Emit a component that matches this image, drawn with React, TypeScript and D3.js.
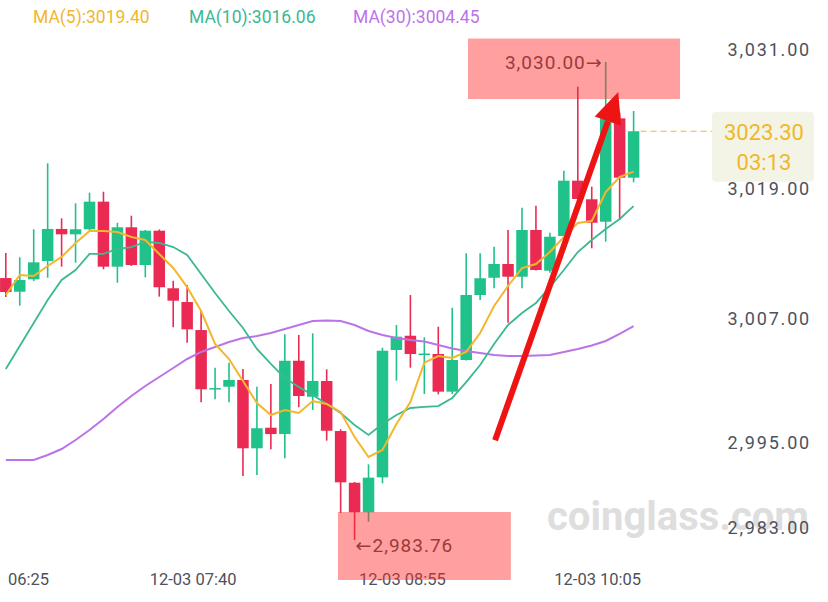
import React from "react";
import * as d3 from "d3";

// ---- data (5-minute candles, 12-03 06:35 .. 10:20) ----
const candleOpen = [3009.10, 3007.78, 3008.98, 3010.75, 3013.85, 3013.33, 3013.82, 3016.49, 3010.20, 3014.01, 3010.36, 3013.68, 3008.11, 3006.78, 3004.07, 2998.34, 2998.59, 2999.24, 2992.63, 2994.62, 2994.01, 3001.10, 2997.62, 2999.14, 2994.30, 2989.30, 2986.44, 2989.82, 3002.14, 3003.52, 3001.66, 3001.75, 2998.11, 3001.17, 3007.46, 3009.13, 3010.46, 3009.23, 3013.75, 3009.81, 3013.17, 3018.52, 3016.72, 3014.55, 3024.55, 3018.81];
const candleHigh = [3011.52, 3011.11, 3013.82, 3020.20, 3014.88, 3016.33, 3017.36, 3017.45, 3014.45, 3015.13, 3013.75, 3013.80, 3008.84, 3008.43, 3006.01, 3000.43, 3000.91, 3000.30, 2998.59, 2998.85, 3003.66, 3003.59, 3003.76, 3000.27, 2994.47, 2989.37, 2991.08, 3002.36, 3004.56, 3007.46, 3003.37, 3004.39, 3006.23, 3011.49, 3011.49, 3012.13, 3013.75, 3015.91, 3016.10, 3013.49, 3019.48, 3027.61, 3017.94, 3030.00, 3025.10, 3025.26];
const candleLow = [3007.27, 3006.43, 3008.81, 3009.13, 3010.20, 3010.58, 3013.70, 3009.95, 3008.65, 3010.27, 3009.17, 3007.30, 3004.34, 3002.85, 2997.08, 2997.37, 2997.08, 2989.95, 2990.05, 2992.53, 2991.66, 2996.60, 2996.34, 2993.37, 2986.37, 2983.76, 2985.53, 2989.24, 2999.17, 3000.43, 2997.88, 2997.85, 2997.88, 3001.12, 3006.98, 3008.11, 3004.78, 3008.11, 3009.83, 3009.62, 3013.12, 3016.00, 3011.98, 3012.62, 3014.72, 3018.36];
const candleClose = [3007.75, 3008.91, 3010.62, 3013.85, 3013.33, 3013.82, 3016.49, 3010.20, 3014.01, 3010.36, 3013.68, 3008.21, 3006.91, 3004.14, 2998.34, 2998.46, 2999.24, 2992.63, 2994.57, 2994.01, 3001.10, 2997.69, 2999.14, 2994.33, 2989.34, 2986.44, 2989.79, 3002.07, 3003.43, 3001.75, 3001.80, 2998.11, 3001.17, 3007.46, 3009.08, 3010.46, 3009.23, 3013.75, 3009.88, 3013.10, 3018.52, 3016.75, 3014.45, 3024.55, 3018.81, 3023.30];

const ma5 = [3007.46, 3009.40, 3009.30, 3010.27, 3011.14, 3012.49, 3013.65, 3013.65, 3013.55, 3013.07, 3012.78, 3011.43, 3010.07, 3008.23, 3005.91, 3002.72, 3001.27, 2999.14, 2997.01, 2995.85, 2996.34, 2996.05, 2997.21, 2996.92, 2996.14, 2993.72, 2991.79, 2992.47, 2994.98, 2997.11, 3000.91, 3001.56, 3001.37, 3001.95, 3003.78, 3006.40, 3008.33, 3010.07, 3010.46, 3011.62, 3013.07, 3014.43, 3014.62, 3017.42, 3018.88, 3019.40];
const ma10 = [3000.30, 3002.53, 3004.75, 3006.98, 3008.91, 3009.88, 3011.43, 3011.43, 3011.91, 3012.10, 3012.59, 3012.49, 3012.10, 3011.33, 3009.49, 3007.65, 3005.91, 3004.27, 3002.24, 3000.79, 2999.43, 2998.56, 2997.79, 2996.92, 2996.05, 2994.88, 2993.92, 2994.98, 2995.85, 2996.53, 2996.63, 2996.72, 2997.50, 2999.04, 3000.69, 3002.72, 3004.56, 3005.72, 3006.69, 3008.23, 3009.88, 3011.62, 3012.78, 3013.85, 3014.81, 3016.06];
const ma30 = [2991.50, 2991.50, 2991.50, 2991.98, 2992.56, 2993.43, 2994.40, 2995.47, 2996.63, 2997.69, 2998.66, 2999.53, 3000.40, 3001.27, 3001.95, 3002.43, 3002.91, 3003.30, 3003.49, 3003.78, 3004.17, 3004.56, 3004.94, 3004.99, 3004.94, 3004.56, 3003.98, 3003.59, 3003.30, 3003.11, 3002.96, 3002.62, 3002.29, 3002.04, 3001.85, 3001.66, 3001.56, 3001.56, 3001.61, 3001.66, 3001.95, 3002.24, 3002.57, 3003.01, 3003.69, 3004.45];

const yTickValues = [3031, 3019, 3007, 2995, 2983];
const xTickLabels = ["06:25", "12-03 07:40", "12-03 08:55", "12-03 10:05"];
const xTickIndex = [-2, 13, 28, 42];
const countdown = "03:13";
// annotation: hand-drawn trend arrow (candle index, price)
const arrowFrom = [35.07, 2993.4];
const arrowTo = [43.9, 3027.1];

const GREEN = "#21c18a";
const RED = "#ea2a52";
const C5 = "#f2b72c";
const C10 = "#3cb893";
const C30 = "#bd73e8";
const FONT = "Roboto, 'DejaVu Sans', sans-serif";

export default function App() {
  const n = candleClose.length;
  const x = d3.scaleLinear().domain([0, n - 1]).range([5.8, 633.6]);
  const y = d3.scaleLinear().domain([2983.76, 3030]).range([540, 62]);
  // label layout of the price axis as it appears in the source
  const yLabel = d3.scaleLinear().domain([2983, 2995, 3007, 3019, 3031]).range([527, 442, 318, 188, 49]);
  const fmt = d3.format(",.2f");
  const line = d3.line<number>().x((_, i) => x(i)).y((v) => y(v));
  const bodyW = 11.5;

  const hiIdx = d3.maxIndex(candleHigh);
  const loIdx = d3.minIndex(candleLow);
  const hi = candleHigh[hiIdx];
  const lo = candleLow[loIdx];
  const last = candleClose[n - 1];

  // arrow geometry
  const ax0 = x(arrowFrom[0]), ay0 = y(arrowFrom[1]);
  const ax1 = x(arrowTo[0]), ay1 = y(arrowTo[1]);
  const len = Math.hypot(ax1 - ax0, ay1 - ay0);
  const ux = (ax1 - ax0) / len, uy = (ay1 - ay0) / len;
  const headL = 31, headW = 14;
  const bx = ax1 - ux * headL, by = ay1 - uy * headL;
  const head = `M${ax1},${ay1} L${bx - uy * headW},${by + ux * headW} L${bx + uy * headW},${by - ux * headW} Z`;

  return (
    <svg width={828} height={602} style={{ position: "absolute", left: 0, top: 0, background: "#fff" }} fontFamily={FONT}>
      <rect width={828} height={602} fill="#fff" />
      {/* watermark */}
      <text x={678} y={516} textAnchor="middle" dominantBaseline="central" fontSize={40} fontWeight={700} fill="#dedede">coinglass.com</text>

      {/* header */}
      <text x={33} y={17} fontSize={17.5} fill={C5} dominantBaseline="central">{`MA(5):${ma5[n - 1].toFixed(2)}`}</text>
      <text x={189} y={17} fontSize={17.5} fill={C10} dominantBaseline="central">{`MA(10):${ma10[n - 1].toFixed(2)}`}</text>
      <text x={353} y={17} fontSize={17.5} fill={C30} dominantBaseline="central">{`MA(30):${ma30[n - 1].toFixed(2)}`}</text>

      {/* price axis labels */}
      {yTickValues.map((v) => (
        <text key={v} x={811} y={yLabel(v)} textAnchor="end" dominantBaseline="central" fontSize={18} letterSpacing={1.8} fill="#4d525c">{fmt(v)}</text>
      ))}

      {/* time axis labels */}
      {xTickLabels.map((t, k) => {
        const cx = x(xTickIndex[k]) + 6;
        const clamp = cx < 50;
        return (
          <text key={t} x={clamp ? 8 : cx} y={579} textAnchor={clamp ? "start" : "middle"} dominantBaseline="central" fontSize={16.5} fill="#4d525c">{t}</text>
        );
      })}

      {/* candles */}
      {candleClose.map((c, i) => {
        const o = candleOpen[i];
        const up = c >= o;
        const col = up ? GREEN : RED;
        const top = y(Math.max(o, c));
        const bot = y(Math.min(o, c));
        return (
          <g key={i}>
            <line x1={x(i)} x2={x(i)} y1={y(candleHigh[i])} y2={y(candleLow[i])} stroke={col} strokeWidth={1.6} />
            <rect x={x(i) - bodyW / 2} y={top} width={bodyW} height={Math.max(1.5, bot - top)} fill={col} />
          </g>
        );
      })}

      {/* moving averages */}
      <path d={line(ma30) || ""} fill="none" stroke={C30} strokeWidth={2} />
      <path d={line(ma10) || ""} fill="none" stroke={C10} strokeWidth={1.8} />
      <path d={line(ma5) || ""} fill="none" stroke={C5} strokeWidth={2} />

      {/* last price line + tag */}
      <line x1={x(n - 1) + 7} x2={712} y1={y(last)} y2={y(last)} stroke={C5} strokeWidth={1} strokeDasharray="6,4" />
      <rect x={712} y={y(last) - 19.5} width={102} height={70} rx={4} fill="#f3f4e6" />
      <text x={764} y={y(last) + 1} textAnchor="middle" dominantBaseline="central" fontSize={22} fill="#f0b829">{last.toFixed(2)}</text>
      <text x={764} y={y(last) + 31} textAnchor="middle" dominantBaseline="central" fontSize={22} fill="#f0b829">{countdown}</text>

      {/* high / low annotations */}
      <text x={x(hiIdx) - 3} y={y(hi)} textAnchor="end" dominantBaseline="central" fontSize={19} letterSpacing={1} fill="#4a4a4a">{`${fmt(hi)}→`}</text>
      <text x={x(loIdx) + 1} y={y(lo) + 5} textAnchor="start" dominantBaseline="central" fontSize={19} letterSpacing={1} fill="#4a4a4a">{`←${fmt(lo)}`}</text>

      {/* highlight boxes */}
      <rect x={x(33.13)} y={y(3032.27)} width={x(48.33) - x(33.13)} height={y(3026.42) - y(3032.27)} fill="#ff2a2a" opacity={0.45} />
      <rect x={x(23.81)} y={y(2986.47)} width={x(36.2) - x(23.81)} height={y(2979.89) - y(2986.47)} fill="#ff2a2a" opacity={0.45} />

      {/* trend arrow */}
      <line x1={ax0} y1={ay0} x2={bx} y2={by} stroke="#ee1414" strokeWidth={6} />
      <path d={head} fill="#ee1414" />
    </svg>
  );
}
